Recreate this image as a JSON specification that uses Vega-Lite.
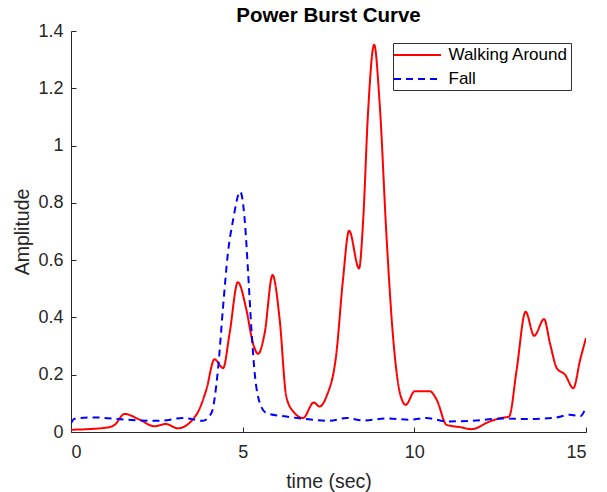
{
  "$schema": "https://vega.github.io/schema/vega-lite/v6.json",
  "autosize": {"type": "none"},
  "padding": {"left": 71, "top": 31, "right": 21, "bottom": 60},
  "width": 515,
  "height": 401,
  "background": "white",
  "config": {
    "view": {"stroke": null},
    "font": "Liberation Sans",
    "axis": {"grid": false, "domainColor": "#262626", "tickColor": "#262626", "labelColor": "#262626", "titleColor": "#262626", "labelFontSize": 18, "titleFontSize": 19.5, "titleFontWeight": "normal", "tickSize": -5, "domainWidth": 1},
    "legend": {"orient": "none", "legendX": 322, "legendY": 12, "strokeColor": "#303030", "fillColor": "white", "padding": 3, "symbolType": "M-2.9375,0H2.9375", "symbolSize": 256, "symbolStrokeWidth": 2, "symbolOffset": 12.5, "labelFontSize": 17, "labelOffset": 22, "rowPadding": 7, "labelColor": "black", "labelLimit": 300}
  },
  "title": {"text": "Power Burst Curve", "fontSize": 20.5, "fontWeight": "bold", "color": "black", "offset": -4, "anchor": "middle"},
  "data": {"values": [
    {"t": 0, "amp": 0.008, "series": "Walking Around"},
    {"t": 0.5, "amp": 0.01, "series": "Walking Around"},
    {"t": 1.12, "amp": 0.017, "series": "Walking Around"},
    {"t": 1.27, "amp": 0.025, "series": "Walking Around"},
    {"t": 1.56, "amp": 0.063, "series": "Walking Around"},
    {"t": 2.0, "amp": 0.043, "series": "Walking Around"},
    {"t": 2.43, "amp": 0.02, "series": "Walking Around"},
    {"t": 2.76, "amp": 0.028, "series": "Walking Around"},
    {"t": 3.11, "amp": 0.013, "series": "Walking Around"},
    {"t": 3.65, "amp": 0.06, "series": "Walking Around"},
    {"t": 3.94, "amp": 0.147, "series": "Walking Around"},
    {"t": 4.18, "amp": 0.254, "series": "Walking Around"},
    {"t": 4.43, "amp": 0.223, "series": "Walking Around"},
    {"t": 4.62, "amp": 0.345, "series": "Walking Around"},
    {"t": 4.86, "amp": 0.523, "series": "Walking Around"},
    {"t": 5.11, "amp": 0.426, "series": "Walking Around"},
    {"t": 5.3, "amp": 0.31, "series": "Walking Around"},
    {"t": 5.45, "amp": 0.273, "series": "Walking Around"},
    {"t": 5.64, "amp": 0.345, "series": "Walking Around"},
    {"t": 5.87, "amp": 0.548, "series": "Walking Around"},
    {"t": 6.08, "amp": 0.39, "series": "Walking Around"},
    {"t": 6.27, "amp": 0.124, "series": "Walking Around"},
    {"t": 6.47, "amp": 0.072, "series": "Walking Around"},
    {"t": 6.76, "amp": 0.049, "series": "Walking Around"},
    {"t": 7.07, "amp": 0.103, "series": "Walking Around"},
    {"t": 7.24, "amp": 0.089, "series": "Walking Around"},
    {"t": 7.44, "amp": 0.124, "series": "Walking Around"},
    {"t": 7.73, "amp": 0.275, "series": "Walking Around"},
    {"t": 7.92, "amp": 0.53, "series": "Walking Around"},
    {"t": 8.1, "amp": 0.703, "series": "Walking Around"},
    {"t": 8.39, "amp": 0.571, "series": "Walking Around"},
    {"t": 8.51, "amp": 0.74, "series": "Walking Around"},
    {"t": 8.65, "amp": 1.112, "series": "Walking Around"},
    {"t": 8.83, "amp": 1.352, "series": "Walking Around"},
    {"t": 8.99, "amp": 1.147, "series": "Walking Around"},
    {"t": 9.19, "amp": 0.682, "series": "Walking Around"},
    {"t": 9.38, "amp": 0.333, "series": "Walking Around"},
    {"t": 9.58, "amp": 0.136, "series": "Walking Around"},
    {"t": 9.75, "amp": 0.095, "series": "Walking Around"},
    {"t": 10.01, "amp": 0.142, "series": "Walking Around"},
    {"t": 10.45, "amp": 0.142, "series": "Walking Around"},
    {"t": 10.65, "amp": 0.113, "series": "Walking Around"},
    {"t": 10.94, "amp": 0.025, "series": "Walking Around"},
    {"t": 11.33, "amp": 0.017, "series": "Walking Around"},
    {"t": 11.67, "amp": 0.01, "series": "Walking Around"},
    {"t": 12.2, "amp": 0.037, "series": "Walking Around"},
    {"t": 12.54, "amp": 0.049, "series": "Walking Around"},
    {"t": 12.76, "amp": 0.054, "series": "Walking Around"},
    {"t": 12.98, "amp": 0.217, "series": "Walking Around"},
    {"t": 13.24, "amp": 0.42, "series": "Walking Around"},
    {"t": 13.49, "amp": 0.336, "series": "Walking Around"},
    {"t": 13.78, "amp": 0.394, "series": "Walking Around"},
    {"t": 13.95, "amp": 0.31, "series": "Walking Around"},
    {"t": 14.15, "amp": 0.223, "series": "Walking Around"},
    {"t": 14.39, "amp": 0.2, "series": "Walking Around"},
    {"t": 14.63, "amp": 0.153, "series": "Walking Around"},
    {"t": 14.83, "amp": 0.252, "series": "Walking Around"},
    {"t": 15.0, "amp": 0.328, "series": "Walking Around"},
    {"t": 0, "amp": 0.03, "series": "Fall"},
    {"t": 0.1, "amp": 0.046, "series": "Fall"},
    {"t": 0.64, "amp": 0.051, "series": "Fall"},
    {"t": 1.6, "amp": 0.043, "series": "Fall"},
    {"t": 2.58, "amp": 0.039, "series": "Fall"},
    {"t": 3.26, "amp": 0.049, "series": "Fall"},
    {"t": 3.84, "amp": 0.039, "series": "Fall"},
    {"t": 4.09, "amp": 0.066, "series": "Fall"},
    {"t": 4.28, "amp": 0.217, "series": "Fall"},
    {"t": 4.43, "amp": 0.438, "series": "Fall"},
    {"t": 4.57, "amp": 0.624, "series": "Fall"},
    {"t": 4.72, "amp": 0.74, "series": "Fall"},
    {"t": 4.93, "amp": 0.839, "series": "Fall"},
    {"t": 5.06, "amp": 0.74, "series": "Fall"},
    {"t": 5.16, "amp": 0.554, "series": "Fall"},
    {"t": 5.25, "amp": 0.368, "series": "Fall"},
    {"t": 5.35, "amp": 0.206, "series": "Fall"},
    {"t": 5.5, "amp": 0.101, "series": "Fall"},
    {"t": 5.69, "amp": 0.066, "series": "Fall"},
    {"t": 6.27, "amp": 0.054, "series": "Fall"},
    {"t": 7.05, "amp": 0.043, "series": "Fall"},
    {"t": 7.54, "amp": 0.039, "series": "Fall"},
    {"t": 8.02, "amp": 0.049, "series": "Fall"},
    {"t": 8.51, "amp": 0.04, "series": "Fall"},
    {"t": 9.19, "amp": 0.047, "series": "Fall"},
    {"t": 9.87, "amp": 0.043, "series": "Fall"},
    {"t": 10.35, "amp": 0.049, "series": "Fall"},
    {"t": 10.94, "amp": 0.037, "series": "Fall"},
    {"t": 11.62, "amp": 0.039, "series": "Fall"},
    {"t": 12.59, "amp": 0.047, "series": "Fall"},
    {"t": 13.25, "amp": 0.045, "series": "Fall"},
    {"t": 14.05, "amp": 0.049, "series": "Fall"},
    {"t": 14.53, "amp": 0.06, "series": "Fall"},
    {"t": 14.83, "amp": 0.055, "series": "Fall"},
    {"t": 15.0, "amp": 0.087, "series": "Fall"}
  ]},
  "mark": {"type": "line", "interpolate": "monotone", "strokeWidth": 2, "clip": true},
  "encoding": {
    "x": {"field": "t", "type": "quantitative", "title": "time (sec)", "scale": {"domain": [0, 15], "nice": false}, "axis": {"values": [0, 5, 10, 15], "labelPadding": 16.5, "titlePadding": 10.5}},
    "y": {"field": "amp", "type": "quantitative", "title": "Amplitude", "scale": {"domain": [0, 1.4], "nice": false}, "axis": {"values": [0, 0.2, 0.4, 0.6, 0.8, 1, 1.2, 1.4], "format": "~g", "labelPadding": 13, "titlePadding": 5}},
    "color": {"field": "series", "type": "nominal", "scale": {"domain": ["Walking Around", "Fall"], "range": ["#ff0000", "#0000ff"]}, "legend": {"title": null}},
    "strokeDash": {"field": "series", "type": "nominal", "scale": {"domain": ["Walking Around", "Fall"], "range": [[1, 0], [7, 5]]}, "legend": {"title": null}},
    "order": {"field": "t", "type": "quantitative"}
  }
}
